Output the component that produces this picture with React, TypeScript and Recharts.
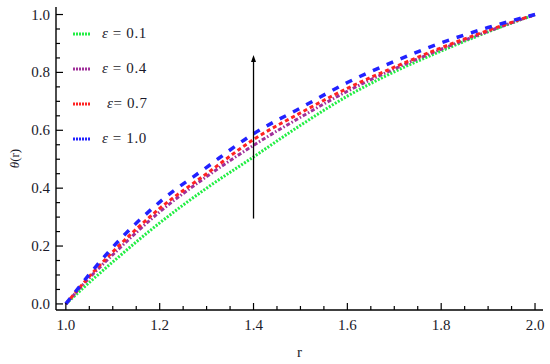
import { Line, LineChart, ReferenceLine, XAxis, YAxis } from 'recharts';

const rValues = [1.0, 1.05, 1.1, 1.2, 1.3, 1.4, 1.5, 1.6, 1.7, 1.8, 1.9, 2.0];
const eps01 = [0, 0.074, 0.145, 0.28, 0.4, 0.508, 0.617, 0.718, 0.802, 0.874, 0.94, 1.0];
const eps04 = [0, 0.09, 0.17, 0.318, 0.44, 0.548, 0.645, 0.735, 0.812, 0.88, 0.942, 1.0];
const eps07 = [0, 0.095, 0.18, 0.33, 0.45, 0.568, 0.66, 0.745, 0.818, 0.885, 0.945, 1.0];
const eps10 = [0, 0.102, 0.196, 0.352, 0.472, 0.588, 0.677, 0.765, 0.838, 0.902, 0.955, 1.0];

const xTicks = [
  1.0, 1.05, 1.1, 1.15, 1.2, 1.25, 1.3, 1.35, 1.4, 1.45, 1.5, 1.55, 1.6, 1.65, 1.7, 1.75, 1.8,
  1.85, 1.9, 1.95, 2.0,
];
const yTicks = [
  0, 0.05, 0.1, 0.15, 0.2, 0.25, 0.3, 0.35, 0.4, 0.45, 0.5, 0.55, 0.6, 0.65, 0.7, 0.75, 0.8,
  0.85, 0.9, 0.95, 1.0,
];

const arrowX = 1.4;
const arrowFrom = 0.295;
const arrowTo = 0.86;

const data = rValues.map((r, i) => ({
  r,
  e1: eps01[i],
  e4: eps04[i],
  e7: eps07[i],
  e10: eps10[i],
}));

const SERIES = [
  { key: 'e1', label: '0.1', color: '#22ee44', dash: '2 1.5', width: 3, tight: false },
  { key: 'e4', label: '0.4', color: '#a0309a', dash: '4 2 1.5 2', width: 3, tight: false },
  { key: 'e7', label: '0.7', color: '#ff2222', dash: '4 3', width: 3, tight: true },
  { key: 'e10', label: '1.0', color: '#2222ff', dash: '7 8', width: 3.5, tight: false },
];

const FONT = '"Liberation Serif", "Times New Roman", serif';
const MAJOR = 7;
const MINOR = 4;

const isMajor = (v: number) => Math.abs(v * 5 - Math.round(v * 5)) < 1e-6;

function BottomTick({ x, y, payload }: any) {
  const major = isMajor(payload.value);
  return (
    <g>
      <line x1={x} x2={x} y1={y} y2={y - (major ? MAJOR : MINOR)} stroke="#000" strokeWidth={1.2} />
      {major && (
        <text x={x} y={y + 20} textAnchor="middle" fontSize={15} fontFamily={FONT} fill="#1a1a2a">
          {payload.value.toFixed(1)}
        </text>
      )}
    </g>
  );
}

function TopTick({ x, y, payload }: any) {
  const len = isMajor(payload.value) ? MAJOR : MINOR;
  return <line x1={x} x2={x} y1={y} y2={y + len} stroke="#000" strokeWidth={1.2} />;
}

function LeftTick({ x, y, payload }: any) {
  const major = isMajor(payload.value);
  return (
    <g>
      <line x1={x} x2={x + (major ? MAJOR : MINOR)} y1={y} y2={y} stroke="#000" strokeWidth={1.2} />
      {major && (
        <text x={x - 6} y={y + 5} textAnchor="end" fontSize={15} fontFamily={FONT} fill="#1a1a2a">
          {payload.value.toFixed(1)}
        </text>
      )}
    </g>
  );
}

function RightTick({ x, y, payload }: any) {
  const len = isMajor(payload.value) ? MAJOR : MINOR;
  return <line x1={x} x2={x - len} y1={y} y2={y} stroke="#000" strokeWidth={1.2} />;
}

function Arrow({ x1, y1, x2, y2 }: any) {
  const top = Math.min(y1, y2);
  const bottom = Math.max(y1, y2);
  return (
    <g>
      <line x1={x1} x2={x2} y1={bottom} y2={top + 4} stroke="#000" strokeWidth={1.3} />
      <path d={`M${x1 - 2.5},${top + 7} L${x1},${top} L${x1 + 2.5},${top + 7} Z`} fill="#000" />
    </g>
  );
}

function LegendBox() {
  return (
    <div
      style={{
        position: 'absolute',
        left: 72,
        top: 16,
        fontFamily: FONT,
        fontSize: 15,
        color: '#1a1a2a',
      }}
    >
      {SERIES.map((s) => (
        <div key={s.key} style={{ display: 'flex', alignItems: 'center', height: 35 }}>
          <svg width={20} height={6}>
            <line
              x1={1}
              x2={19}
              y1={3}
              y2={3}
              stroke={s.color}
              strokeWidth={3}
              strokeDasharray="2 1"
            />
          </svg>
          <span style={{ marginLeft: s.tight ? 15 : 10, letterSpacing: 0.6 }}>
            <i>ε</i>
            {s.tight ? '= ' : ' = '}
            {s.label}
          </span>
        </div>
      ))}
    </div>
  );
}

export default function App() {
  return (
    <div style={{ position: 'absolute', left: 0, top: 0, width: 550, height: 364, background: '#fff' }}>
      <LineChart width={550} height={364} data={data} margin={{ top: 7, right: 7, bottom: 0, left: 0 }}>
        <XAxis
          xAxisId="b"
          dataKey="r"
          type="number"
          domain={[0.979, 2.017]}
          ticks={xTicks}
          allowDataOverflow
          height={54}
          tickSize={0}
          tickMargin={0}
          tickLine={false}
          axisLine={{ stroke: '#000', strokeWidth: 1.4 }}
          tick={<BottomTick />}
          interval={0}
          label={{
            content: ({ viewBox }: any) => (
              <text
                x={viewBox.x + viewBox.width / 2}
                y={viewBox.y + 47}
                textAnchor="middle"
                fontSize={15}
                fontFamily={FONT}
                fill="#1a1a2a"
              >
                r
              </text>
            ),
          }}
        />
        <XAxis
          xAxisId="t"
          orientation="top"
          dataKey="r"
          type="number"
          domain={[0.979, 2.017]}
          ticks={xTicks}
          allowDataOverflow
          height={0}
          tickSize={0}
          tickMargin={0}
          tickLine={false}
          axisLine={{ stroke: '#000', strokeWidth: 1.4 }}
          tick={<TopTick />}
          interval={0}
        />
        <YAxis
          yAxisId="l"
          type="number"
          domain={[-0.021, 1.026]}
          ticks={yTicks}
          allowDataOverflow
          width={56}
          tickSize={0}
          tickMargin={0}
          tickLine={false}
          axisLine={{ stroke: '#000', strokeWidth: 1.4 }}
          tick={<LeftTick />}
          interval={0}
          label={{
            content: ({ viewBox }: any) => {
              const cy = viewBox.y + viewBox.height / 2;
              return (
                <text
                  x={16}
                  y={cy}
                  transform={`rotate(-90 16 ${cy})`}
                  textAnchor="middle"
                  dominantBaseline="middle"
                  fontSize={13}
                  fontFamily={FONT}
                  fill="#1a1a2a"
                >
                  <tspan fontStyle="italic">θ</tspan>(r)
                </text>
              );
            },
          }}
        />
        <YAxis
          yAxisId="r"
          orientation="right"
          type="number"
          domain={[-0.021, 1.026]}
          ticks={yTicks}
          allowDataOverflow
          width={0}
          tickSize={0}
          tickMargin={0}
          tickLine={false}
          axisLine={{ stroke: '#000', strokeWidth: 1.4 }}
          tick={<RightTick />}
          interval={0}
        />
        {SERIES.map((s) => (
          <Line
            key={s.key}
            xAxisId="b"
            yAxisId="l"
            type="monotone"
            dataKey={s.key}
            stroke={s.color}
            strokeWidth={s.width}
            strokeDasharray={s.dash}
            dot={false}
            activeDot={false}
            isAnimationActive={false}
          />
        ))}
        <ReferenceLine
          xAxisId="b"
          yAxisId="l"
          segment={[
            { x: arrowX, y: arrowFrom },
            { x: arrowX, y: arrowTo },
          ]}
          shape={<Arrow />}
        />
      </LineChart>
      <LegendBox />
    </div>
  );
}
